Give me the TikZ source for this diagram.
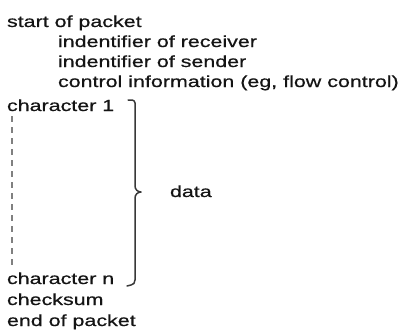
\documentclass[tikz,border=0pt]{standalone}
\usepackage{fontspec}
\setmainfont{Liberation Sans}[FakeStretch=1.34,FakeBold=0.6]
\begin{document}
\begin{tikzpicture}[x=1pt,y=1pt,
  lbl/.style={anchor=base west,inner sep=0pt,outer sep=0pt,font=\fontsize{16}{18}\selectfont,text=black!92},
  brace/.style={line width=1.5pt,black!78,line cap=round,line join=round},
  dots/.style={line width=1.4pt,black!50,dash pattern=on 6pt off 5pt}]
\useasboundingbox (0,0) rectangle (413,-332);
\node[lbl] (start) at (7,-27) {start of packet};
\node[lbl] (recv) at (58,-47) {indentifier of receiver};
\node[lbl] (send) at (58,-67) {indentifier of sender};
\node[lbl] (ctrl) at (58,-87) {control information (eg, flow control)};
\node[lbl] (c1) at (7,-111) {character 1};
\node[lbl] (cn) at (7,-284) {character n};
\node[lbl] (cks) at (7,-305) {checksum};
\node[lbl] (end) at (7,-326) {end of packet};
\node[lbl] (data) at (170,-197) {data};
\coordinate (dtop) at (12,-116);
\coordinate (dbot) at (12,-266);
\draw[dots] (dtop) -- (dbot);
\draw[brace] (128,-100) -- (132,-100) to[out=0,in=90] (135,-103) -- (135,-186)
  to[out=-90,in=180] (141,-192) to[out=180,in=90] (135,-198) -- (135,-280)
  to[out=-90,in=0] (131,-285) -- (127,-286);
\end{tikzpicture}
\end{document}
